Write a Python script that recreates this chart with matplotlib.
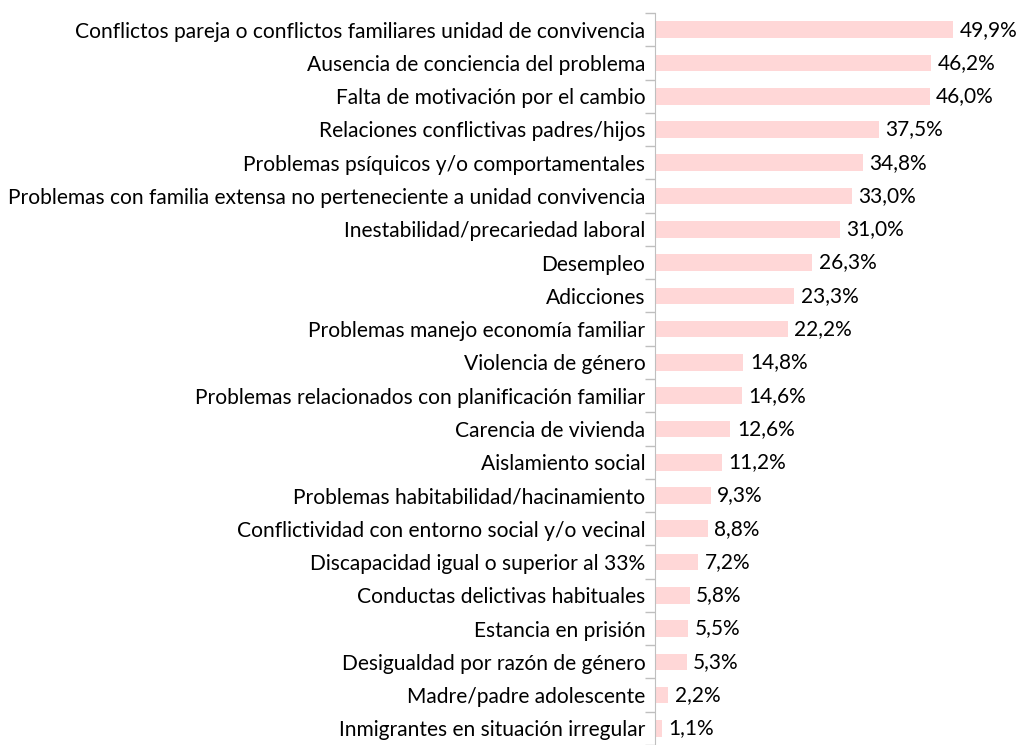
import matplotlib.pyplot as plt

categories = [
    "Conflictos pareja o conflictos familiares unidad de convivencia",
    "Ausencia de conciencia del problema",
    "Falta de motivación por el cambio",
    "Relaciones conflictivas padres/hijos",
    "Problemas psíquicos y/o comportamentales",
    "Problemas con familia extensa no perteneciente a unidad convivencia",
    "Inestabilidad/precariedad laboral",
    "Desempleo",
    "Adicciones",
    "Problemas manejo economía familiar",
    "Violencia de género",
    "Problemas relacionados con planificación familiar",
    "Carencia de vivienda",
    "Aislamiento social",
    "Problemas habitabilidad/hacinamiento",
    "Conflictividad con entorno social y/o vecinal",
    "Discapacidad igual o superior al 33%",
    "Conductas delictivas habituales",
    "Estancia en prisión",
    "Desigualdad por razón de género",
    "Madre/padre adolescente",
    "Inmigrantes en situación irregular",
]
values = [49.9, 46.2, 46.0, 37.5, 34.8, 33.0, 31.0, 26.3, 23.3, 22.2, 14.8,
          14.6, 12.6, 11.2, 9.3, 8.8, 7.2, 5.8, 5.5, 5.3, 2.2, 1.1]

plt.rcParams['font.family'] = ['Lato', 'DejaVu Sans']

fig = plt.figure(figsize=(10.22, 7.45), dpi=100)
ax = fig.add_axes([655/1022, 0, 1 - 655/1022, 1 - 13/745])

n = len(categories)
pos = list(range(n))
ax.barh(pos, values, height=0.5, color='#FFD7D7')
for p, v in zip(pos, values):
    ax.text(v + 1.1, p, f"{v:.1f}%".replace('.', ','), va='center', ha='left',
            fontsize=15, color='black')

ax.set_ylim(n - 0.5, -0.5)
ax.set_xlim(0, (1022 - 655) / 5.97)
ax.set_yticks([i + 0.5 for i in range(-1, n)], minor=False)
ax.set_yticklabels([])
ax.set_yticks(pos, minor=True)
ax.set_yticklabels(categories, minor=True, fontsize=15.1)
ax.tick_params(axis='y', which='major', length=7, color='#BFBFBF', width=1)
ax.tick_params(axis='y', which='minor', length=0, pad=7)
ax.set_xticks([])
for s in ['top', 'right', 'bottom']:
    ax.spines[s].set_visible(False)
ax.spines['left'].set_color('#BFBFBF')

fig.savefig('out.png', dpi=100)
